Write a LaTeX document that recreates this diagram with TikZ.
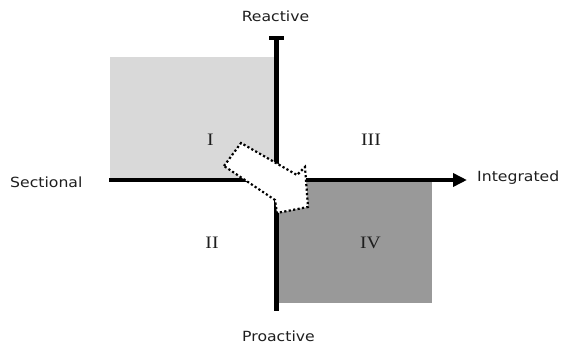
\documentclass[tikz,border=0pt]{standalone}
\usepackage{fontspec}
\setmainfont{Liberation Serif}
\newfontfamily\labelfont{DejaVu Sans}
\usetikzlibrary{arrows.meta}
\definecolor{quadlight}{RGB}{217,217,217}
\definecolor{quaddark}{RGB}{153,153,153}
\definecolor{labelgray}{RGB}{30,30,30}
\newcommand{\widetext}[1]{\scalebox{1.12}[1]{#1}}
\tikzset{
  axislabel/.style={inner sep=0pt, text=labelgray, font=\labelfont\fontsize{14}{16}\selectfont},
  quadlabel/.style={inner sep=0pt, text=labelgray, font=\fontsize{17.5}{20}\selectfont},
  axisline/.style={line width=4.2pt, black},
  shiftarrow/.style={fill=white, draw=black, line width=2.2pt, line cap=butt,
    dash pattern=on 2.2pt off 2.3pt, line join=miter},
}
\begin{document}
\begin{tikzpicture}[x=1pt,y=-1pt]
  \useasboundingbox (0,0) rectangle (566,350);
  % quadrant fills
  \fill[quadlight] (110,57) rectangle (276.5,180);
  \fill[quaddark] (276.5,180) rectangle (432,303);
  % axes
  \coordinate (west) at (109,180);
  \coordinate (east) at (467,180);
  \coordinate (north) at (276.5,36);
  \coordinate (south) at (276.5,311);
  \draw[axisline, -{Triangle[length=14pt,width=13pt]}] (west) -- (east);
  \draw[axisline, -{Bar[width=15pt]}] (south) -- (north);
  % axis labels
  \node[axislabel] (reactive) at (275.5,16) {\widetext{Reactive}};
  \node[axislabel] (proactive) at (278.5,336) {\widetext{Proactive}};
  \node[axislabel, anchor=west] (sectional) at (10,182) {\widetext{Sectional}};
  \node[axislabel, anchor=west] (integrated) at (477,178) {\widetext{Integrated}};
  % quadrant numbers
  \node[quadlabel] (q1) at (210.5,140) {\widetext{I}};
  \node[quadlabel] (q3) at (371,140) {\widetext{III}};
  \node[quadlabel] (q2) at (212,243) {\widetext{II}};
  \node[quadlabel] (q4) at (370.5,243) {\widetext{IV}};
  % block arrow from I towards IV
  \draw[shiftarrow] (224,166) -- (241,143) -- (297,175) -- (305,167)
    -- (308,207) -- (277,213) -- (275,200) -- cycle;
\end{tikzpicture}
\end{document}
